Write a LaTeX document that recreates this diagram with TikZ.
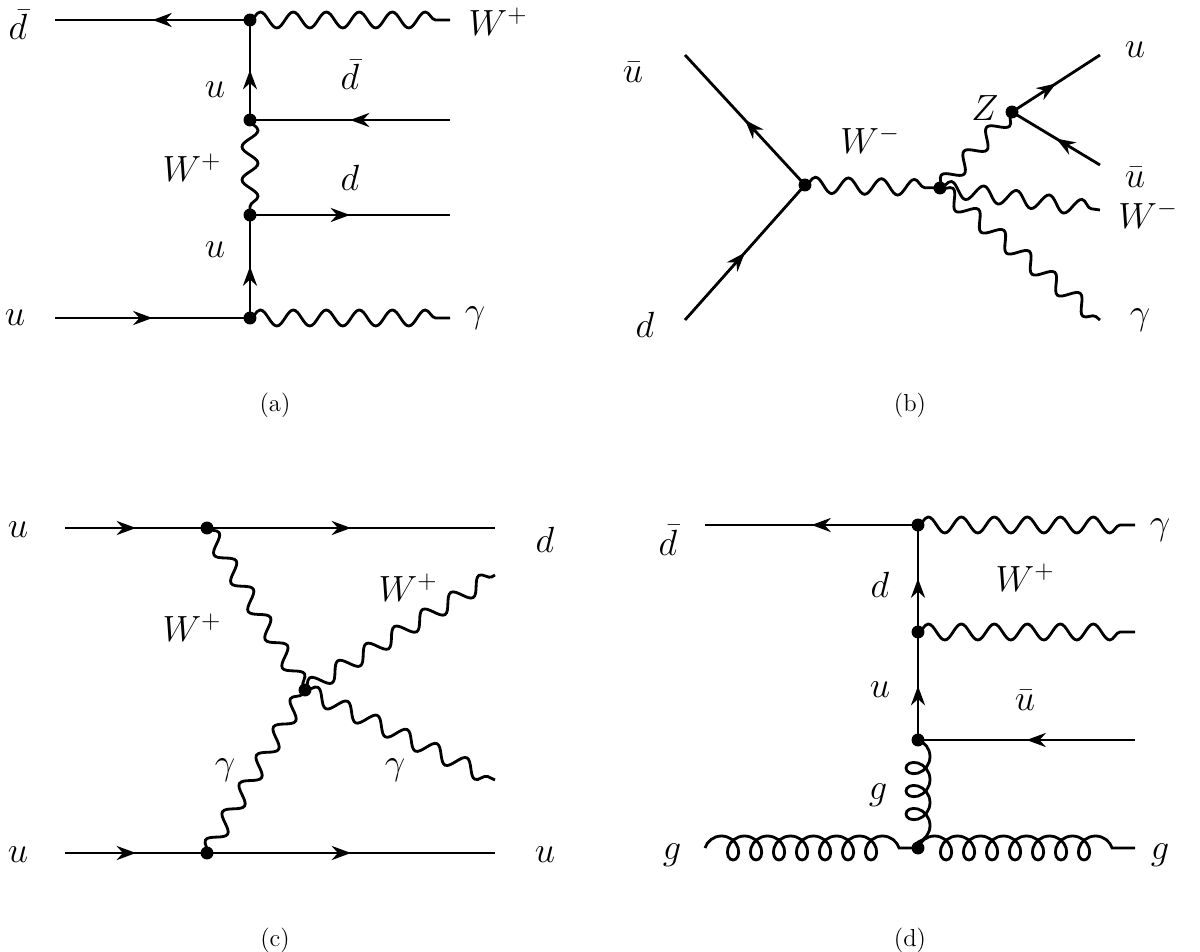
\documentclass[tikz,border=0pt]{standalone}
\usetikzlibrary{decorations.pathmorphing,decorations.markings,arrows.meta}
\begin{document}
\begin{tikzpicture}[x=0.02cm,y=-0.02cm,line width=1.6pt,
  fermion/.style={postaction={decorate},decoration={markings,mark=at position #1 with {\arrow{Stealth[length=11pt,width=8pt]}}}},
  fermion/.default=0.5,
  photon/.style={decorate,decoration={snake,segment length=0.66cm,amplitude=0.16cm}},
  gluon/.style={decorate,decoration={coil,segment length=0.46cm,amplitude=0.24cm,aspect=0.9}},
  vtx/.style={circle,fill,inner sep=2.6pt},
  lab/.style={font=\fontsize{21}{25}\selectfont},
  captxt/.style={font=\fontsize{14}{16}\selectfont}]
\useasboundingbox (0,0) rectangle (1200,952);
% (a)
\coordinate (a0) at (55,20); \node[vtx] (a1) at (250,20) {}; \coordinate (a2) at (450,20);
\node[vtx] (a3) at (250,120) {}; \coordinate (a4) at (450,120);
\node[vtx] (a5) at (250,215) {}; \coordinate (a6) at (450,215);
\node[vtx] (a7) at (250,318) {}; \coordinate (a8) at (55,318); \coordinate (a9) at (450,318);
\draw[fermion] (a1.center) -- (a0);
\draw[photon] (a1.center) -- (a2);
\draw[fermion] (a3.center) -- (a1.center);
\draw[fermion] (a4) -- (a3.center);
\draw[photon] (a3.center) -- (a5.center);
\draw[fermion] (a5.center) -- (a6);
\draw[fermion] (a7.center) -- (a5.center);
\draw[fermion] (a8) -- (a7.center);
\draw[photon] (a7.center) -- (a9);
\node[lab] (la1) at (18,25) {$\bar d$};
\node[lab] (la2) at (498,22) {$W^+$};
\node[lab] (la3) at (215,90) {$u$};
\node[lab] (la4) at (350,75) {$\bar d$};
\node[lab] (la5) at (192,168) {$W^+$};
\node[lab] (la6) at (350,178) {$d$};
\node[lab] (la7) at (215,250) {$u$};
\node[lab] (la8) at (15,318) {$u$};
\node[lab] (la9) at (475,318) {$\gamma$};
\node[captxt] (ca) at (275,405) {(a)};
% (b)
\coordinate (b0) at (685,320); \coordinate (b1) at (685,55);
\node[vtx] (b2) at (805,185) {}; \node[vtx] (b3) at (940,188) {};
\node[vtx] (b4) at (1012,112) {};
\coordinate (b5) at (1100,55); \coordinate (b6) at (1100,165);
\coordinate (b7) at (1100,210); \coordinate (b8) at (1100,320);
\draw[fermion] (b0) -- (b2.center);
\draw[fermion] (b2.center) -- (b1);
\draw[photon] (b2.center) -- (b3.center);
\draw[photon] (b3.center) -- (b4.center);
\draw[fermion] (b4.center) -- (b5);
\draw[fermion] (b6) -- (b4.center);
\draw[photon] (b3.center) -- (b7);
\draw[photon] (b3.center) -- (b8);
\node[lab] (lb1) at (633,72) {$\bar u$};
\node[lab] (lb2) at (645,325) {$d$};
\node[lab] (lb3) at (870,140) {$W^-$};
\node[lab] (lb4) at (985,108) {$Z$};
\node[lab] (lb5) at (1135,50) {$u$};
\node[lab] (lb6) at (1135,177) {$\bar u$};
\node[lab] (lb7) at (1148,215) {$W^-$};
\node[lab] (lb8) at (1140,320) {$\gamma$};
\node[captxt] (cb) at (910,405) {(b)};
% (c)
\coordinate (c0) at (65,528); \node[vtx] (c1) at (207,528) {}; \coordinate (c2) at (495,528);
\coordinate (c3) at (65,853); \node[vtx] (c4) at (207,853) {}; \coordinate (c5) at (495,853);
\node[vtx] (c6) at (305,690) {};
\coordinate (c7) at (495,575); \coordinate (c8) at (495,780);
\draw[fermion] (c0) -- (c1.center);
\draw[fermion] (c1.center) -- (c2);
\draw[fermion] (c3) -- (c4.center);
\draw[fermion] (c4.center) -- (c5);
\draw[photon] (c1.center) -- (c6.center);
\draw[photon] (c4.center) -- (c6.center);
\draw[photon] (c6.center) -- (c7);
\draw[photon] (c6.center) -- (c8);
\node[lab] (lc1) at (18,530) {$u$};
\node[lab] (lc2) at (545,540) {$d$};
\node[lab] (lc3) at (18,855) {$u$};
\node[lab] (lc4) at (545,855) {$u$};
\node[lab] (lc5) at (192,628) {$W^+$};
\node[lab] (lc6) at (408,588) {$W^+$};
\node[lab] (lc7) at (225,770) {$\gamma$};
\node[lab] (lc8) at (395,770) {$\gamma$};
\node[captxt] (cc) at (275,940) {(c)};
% (d)
\coordinate (d0) at (705,525); \node[vtx] (d1) at (918,525) {}; \coordinate (d2) at (1135,525);
\node[vtx] (d3) at (918,632) {}; \coordinate (d4) at (1135,632);
\node[vtx] (d5) at (918,740) {}; \coordinate (d6) at (1135,740);
\node[vtx] (d7) at (918,848) {}; \coordinate (d8) at (705,848); \coordinate (d9) at (1135,848);
\draw[fermion] (d1.center) -- (d0);
\draw[photon] (d1.center) -- (d2);
\draw[fermion] (d3.center) -- (d1.center);
\draw[photon] (d3.center) -- (d4);
\draw[fermion] (d5.center) -- (d3.center);
\draw[fermion] (d6) -- (d5.center);
\draw[gluon] (d5.center) -- (d7.center);
\draw[gluon] (d8) -- (d7.center);
\draw[gluon] (d7.center) -- (d9);
\node[lab] (ld1) at (668,540) {$\bar d$};
\node[lab] (ld2) at (1160,530) {$\gamma$};
\node[lab] (ld3) at (880,585) {$d$};
\node[lab] (ld4) at (1025,578) {$W^+$};
\node[lab] (ld5) at (880,690) {$u$};
\node[lab] (ld6) at (1025,700) {$\bar u$};
\node[lab] (ld7) at (878,795) {$g$};
\node[lab] (ld8) at (672,855) {$g$};
\node[lab] (ld9) at (1160,855) {$g$};
\node[captxt] (cd) at (910,940) {(d)};
\end{tikzpicture}
\end{document}
